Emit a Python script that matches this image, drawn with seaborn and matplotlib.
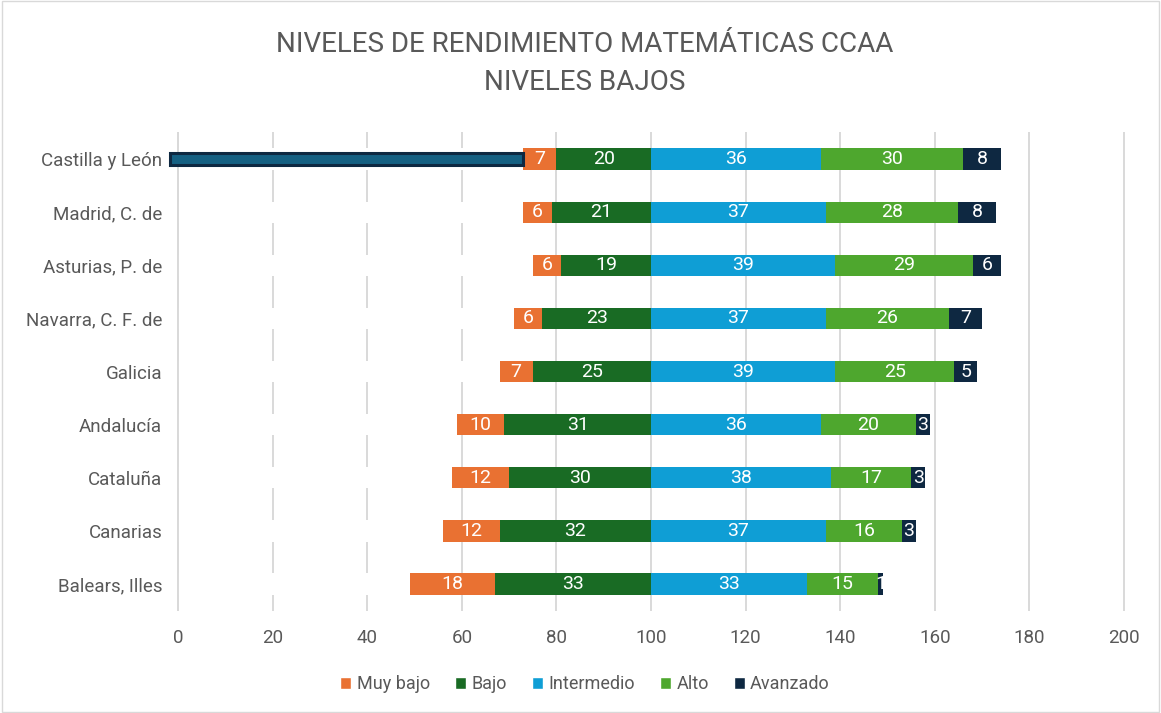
import numpy as np
import pandas as pd
import matplotlib
matplotlib.use("Agg")
import matplotlib.pyplot as plt
import seaborn as sns
from matplotlib.patches import Patch, Rectangle

# Data (percent of students per performance level)
regions = ["Castilla y León", "Madrid, C. de", "Asturias, P. de", "Navarra, C. F. de",
           "Galicia", "Andalucía", "Cataluña", "Canarias", "Balears, Illes"]
muy_bajo = [7, 6, 6, 6, 7, 10, 12, 12, 18]
bajo = [20, 21, 19, 23, 25, 31, 30, 32, 33]
intermedio = [36, 37, 39, 37, 39, 36, 38, 37, 33]
alto = [30, 28, 29, 26, 25, 20, 17, 16, 15]
avanzado = [8, 8, 6, 7, 5, 3, 3, 3, 1]

levels = ["Muy bajo", "Bajo", "Intermedio", "Alto", "Avanzado"]
colors = ["#E97132", "#196B24", "#0F9ED5", "#4EA72E", "#0E2841"]
text_gray = "#595959"

sns.set_theme(style="white")
plt.rcParams["font.family"] = ["Roboto", "DejaVu Sans"]

df = pd.DataFrame({"region": regions, "Muy bajo": muy_bajo, "Bajo": bajo,
                   "Intermedio": intermedio, "Alto": alto, "Avanzado": avanzado})
# invisible offset so that "Bajo" ends at 100
df["offset"] = 100 - df["Muy bajo"] - df["Bajo"]

fig = plt.figure(figsize=(11.61, 7.13), dpi=100)
ax = fig.add_axes([0.1493, 0.1436, 0.8229, 0.6706])

# stacked bars: draw cumulative totals from longest to shortest
cols = ["offset"] + levels
cum = df[cols].cumsum(axis=1)
bar_w = 0.4
for i in range(len(cols) - 1, -1, -1):
    c = cols[i]
    color = "white" if c == "offset" else colors[levels.index(c)]
    sns.barplot(x=cum[c], y=df["region"], orient="h", color=color, width=bar_w,
                linewidth=0, saturation=1, ax=ax, zorder=2)

# data labels
for r in range(len(df)):
    for lvl in levels:
        end = cum.loc[r, lvl]
        start = end - df.loc[r, lvl]
        ax.text((start + end) / 2, r, str(df.loc[r, lvl]), ha="center", va="center",
                color="white", fontsize=14, zorder=5)

# selection highlight on the offset of the first row (as in the source)
ax.barh(0, df.loc[0, "offset"] + 1.7, left=-1.7, height=0.24, color="#156082",
        edgecolor="#0E2841", linewidth=2.2, zorder=4, clip_on=False)

ax.set_xlim(-1, 201)
ax.set_ylim(len(df) - 0.5, -0.5)
ax.set_xticks(np.arange(0, 201, 20))
ax.grid(axis="x", color="#D9D9D9", linewidth=1.4, zorder=0)
ax.grid(axis="y", visible=False)
ax.set_axisbelow(True)
ax.axvline(0, color="#D9D9D9", linewidth=1.4, zorder=3)
for s in ax.spines.values():
    s.set_visible(False)
ax.set_xlabel("")
ax.set_ylabel("")
ax.tick_params(axis="x", colors=text_gray, labelsize=13.5, length=0, pad=13)
ax.tick_params(axis="y", colors=text_gray, labelsize=13.5, length=0, pad=8)

fig.text(0.504, 0.937, "NIVELES DE RENDIMIENTO MATEMÁTICAS CCAA", ha="center", va="center",
         fontsize=20, color=text_gray)
fig.text(0.504, 0.884, "NIVELES BAJOS", ha="center", va="center",
         fontsize=20, color=text_gray)

handles = [Patch(facecolor=c, label=l) for c, l in zip(colors, levels)]
fig.legend(handles=handles, loc="center", bbox_to_anchor=(0.504, 0.04), ncol=5,
           frameon=False, fontsize=13, labelcolor=text_gray, handlelength=0.6,
           handleheight=0.6, handletextpad=0.3, columnspacing=1.4)

fig.patches.append(Rectangle((0.002, 0.002), 0.996, 0.996, transform=fig.transFigure,
                             fill=False, edgecolor="#D9D9D9", linewidth=1))

fig.savefig("out.png", dpi=100)
